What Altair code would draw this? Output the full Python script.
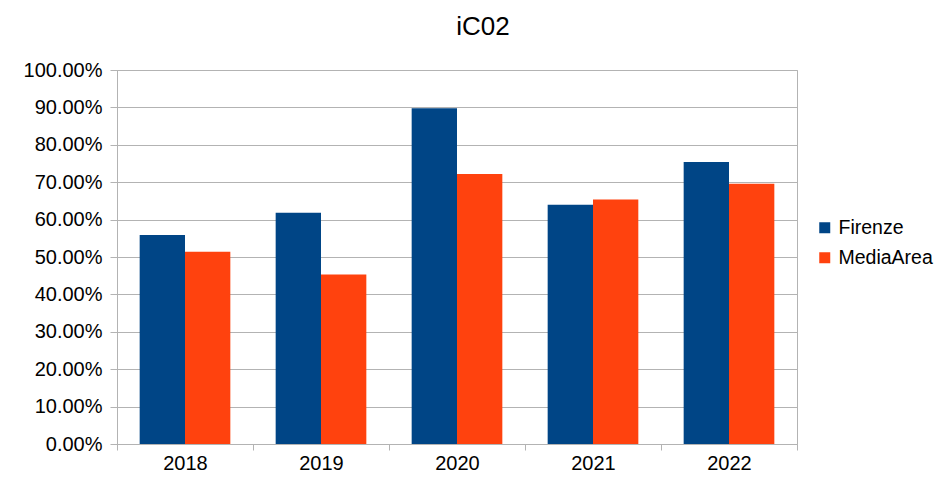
import altair as alt
import pandas as pd

years = ["2018", "2019", "2020", "2021", "2022"]
series_names = ["Firenze", "MediaArea"]
firenze = [0.559, 0.618, 0.898, 0.640, 0.754]
media_area = [0.514, 0.453, 0.722, 0.654, 0.696]
y_ticks = [0.0, 0.1, 0.2, 0.3, 0.4, 0.5, 0.6, 0.7, 0.8, 0.9, 1.0]
colors = ["#004586", "#ff420e"]

rows = []
for i, y in enumerate(years):
    rows.append({"year": y, "series": "Firenze", "value": firenze[i]})
    rows.append({"year": y, "series": "MediaArea", "value": media_area[i]})
df = pd.DataFrame(rows)

FONT = "Liberation Sans"
GRID = "#b3b3b3"

chart = alt.Chart(df).mark_bar().encode(
    x=alt.X(
        "year:N",
        sort=years,
        scale=alt.Scale(paddingInner=0, paddingOuter=0),
        axis=alt.Axis(
            title=None, labelAngle=0, tickBand="extent", tickSize=6,
            tickColor=GRID, domainColor=GRID, grid=False,
            labelFontSize=20, labelFont=FONT, labelColor="black", labelPadding=3,
        ),
    ),
    xOffset=alt.XOffset("series:N", sort=series_names,
                        scale=alt.Scale(paddingOuter=0.5, paddingInner=0)),
    y=alt.Y(
        "value:Q",
        scale=alt.Scale(domain=[0, 1]),
        axis=alt.Axis(
            title=None, values=y_ticks, format=".2%", tickSize=7,
            tickColor=GRID, domainColor=GRID, gridColor=GRID,
            labelFontSize=20, labelFont=FONT, labelColor="black", labelPadding=8,
        ),
    ),
    color=alt.Color(
        "series:N",
        scale=alt.Scale(domain=series_names, range=colors),
        legend=alt.Legend(
            title=None, orient="none", legendX=698, legendY=148,
            symbolType="square", symbolSize=121, symbolStrokeWidth=0,
            labelFontSize=19.5, labelFont=FONT, labelColor="black",
            labelOffset=4, rowPadding=9,
        ),
    ),
).properties(
    width=680,
    height=374,
    title=alt.TitleParams("iC02", fontSize=26, font=FONT, fontWeight="normal",
                          color="black", anchor="middle", dx=26, offset=20),
    autosize=alt.AutoSizeParams(type="none"),
    padding={"left": 109, "top": 62, "right": 142, "bottom": 30},
).configure_view(stroke=GRID)

chart.save("out.html", embed_options={"renderer": "svg", "actions": False})
